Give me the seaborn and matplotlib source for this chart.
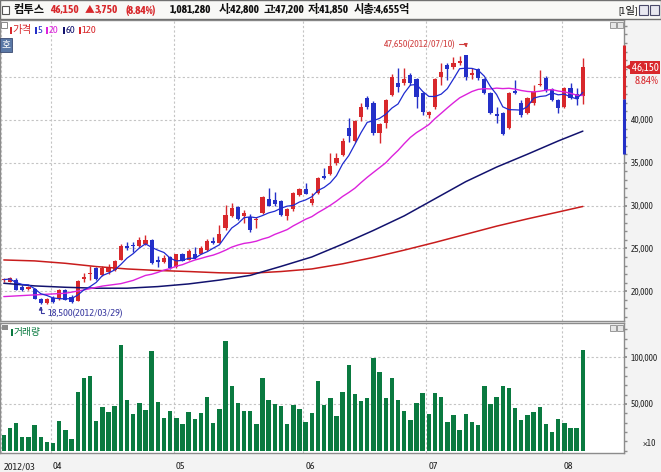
import os
import numpy as np
import pandas as pd
import matplotlib
matplotlib.use("Agg")
import matplotlib.pyplot as plt
import matplotlib.transforms as mtransforms
from matplotlib.patches import Rectangle
from matplotlib import font_manager as fm
from matplotlib.ticker import MultipleLocator
from matplotlib.textpath import TextToPath
import seaborn as sns

# ---------------- data ----------------
stock_name = "컴투스"
opens = [21300, 21120, 21320, 20540, 20270, 20270, 19100, 18600, 19250, 19100,
         20150, 19350, 18900, 21430, 22000, 22680, 21900, 22300, 22480, 23650,
         25320, 25350, 25320, 25480, 25980, 23660, 23460, 23970, 22880, 24360,
         23660, 24360, 24360, 24820, 25870, 25680, 27350, 28790, 29880, 28790,
         28710, 28300, 29100, 30780, 30660, 30540, 28830, 29570, 31240, 31940,
         30280, 31450, 33510, 33700, 34950, 35920, 39030, 37600, 40400, 42530,
         42030, 38530, 39700, 42920, 44360, 44360, 45260, 44750, 43120, 40590,
         41480, 45060, 46420, 46150, 46700, 47590, 45260, 45920, 44750, 43200,
         40710, 40780, 39110, 43390, 41950, 40860, 41950, 44050, 44950, 43580,
         42340, 41560, 43700, 43040, 42800]
highs = [21550, 21700, 21500, 20700, 20600, 20350, 19200, 19200, 19400, 20200,
         20300, 19500, 21300, 22100, 23000, 22800, 22900, 23150, 23700, 25500,
         25800, 25700, 26380, 26570, 26100, 24120, 24240, 24100, 24400, 24500,
         24900, 25200, 25300, 26100, 26300, 27740, 30080, 30270, 30000, 29490,
         29000, 28710, 31100, 32020, 31630, 30700, 29700, 31600, 32100, 32680,
         31450, 33350, 34370, 36120, 36120, 37900, 40200, 40000, 41950, 42810,
         42200, 39700, 42500, 45370, 46040, 46040, 45450, 44900, 43300, 41100,
         44900, 46620, 46700, 47400, 47500, 47650, 46040, 46040, 44900, 43300,
         41480, 40900, 43300, 44670, 42300, 42650, 44090, 45840, 45100, 43700,
         42500, 43800, 44290, 43700, 47200]
lows = [21050, 21050, 20100, 20000, 20150, 19050, 18500, 18550, 18600, 19000,
        18950, 18600, 18850, 21100, 21300, 21300, 21800, 22000, 22400, 23600,
        24800, 24600, 25200, 25400, 23200, 22880, 23300, 22600, 22700, 23500,
        23600, 23800, 24300, 24700, 25500, 25600, 27200, 28700, 28300, 27940,
        26960, 27350, 29000, 29900, 30000, 28800, 28330, 29400, 31100, 31300,
        30100, 31300, 33100, 33600, 34800, 35800, 37480, 37400, 39930, 41300,
        38200, 37280, 39030, 42800, 43310, 44090, 44100, 41370, 40590, 40200,
        41300, 44090, 44670, 45900, 46400, 44670, 44750, 44670, 43000, 40700,
        39620, 38200, 39000, 43000, 40400, 40700, 41800, 44000, 43300, 42200,
        40780, 41450, 42400, 41760, 41850]
closes = [21350, 21510, 20150, 20150, 20540, 19100, 18600, 19100, 18700, 20150,
          19000, 18700, 21200, 21700, 22100, 21430, 22680, 22680, 23530, 25320,
          25100, 25300, 25980, 25980, 23260, 23460, 23930, 22680, 24360, 23580,
          24710, 23850, 25020, 25870, 25680, 26690, 28910, 29760, 28400, 29180,
          27160, 28400, 31050, 29960, 30150, 28910, 29610, 31510, 31940, 31360,
          30750, 33280, 33280, 34640, 35530, 37600, 38140, 39930, 41480, 41480,
          38530, 39540, 42340, 45060, 43900, 44790, 44280, 42730, 40980, 40980,
          44750, 45650, 45920, 46700, 46930, 45060, 45530, 44870, 43200, 40790,
          40470, 38370, 43200, 43120, 40590, 42530, 43310, 44170, 43510, 42340,
          41370, 43700, 42530, 42400, 46150]
volumes = [16800, 24300, 29600, 14600, 14600, 27500, 14600, 9300, 8200, 31800,
           22100, 12500, 62900, 77900, 80000, 31800, 46800, 41400, 47900, 113200,
           54300, 39300, 51100, 43600, 106800, 52100, 35000, 42500, 35000, 28600,
           41400, 33900, 40400, 57500, 29600, 44600, 117500, 69300, 51100, 42500,
           42500, 28600, 77900, 54300, 50000, 47900, 28600, 48900, 44600, 30700,
           40400, 74600, 48900, 56400, 37100, 62900, 91800, 60700, 53200, 56400,
           99300, 84300, 56400, 77900, 54300, 42500, 32900, 51100, 61800, 39300,
           61800, 57500, 30700, 38200, 22100, 39300, 30700, 27500, 69300, 50000,
           57500, 69300, 67100, 45700, 32900, 38200, 41400, 46800, 28600, 20000,
           33900, 29600, 24300, 24300, 108128]   # x10 shares
month_labels = ["2012/03", "04", "05", "06", "07", "08"]
month_first_idx = [0, 8, 28, 49, 69, 91]
ma20_head_idx = [0, 5, 10, 13, 16]
ma20_head_vals = [19370, 19570, 19760, 20150, 20600]
ma_long_idx = [0, 5, 10, 15, 20, 25, 30, 35, 40, 45, 50, 55, 60, 65, 70, 75, 80, 85, 90, 94]
ma60_vals = [20930, 20620, 20460, 20350, 20350, 20540, 20850, 21300, 21850, 22900,
             24000, 25500, 27100, 28800, 30800, 32800, 34500, 36000, 37550, 38700]
ma120_vals = [23650, 23540, 23260, 22880, 22600, 22420, 22300, 22150, 22100, 22300,
              22600, 23200, 23950, 24800, 25700, 26650, 27600, 28450, 29250, 29900]
day_open, day_high, day_low = 42800, 47200, 41850
market_cap = "4,655억"
high_idx, high_date = 75, "2012/07/10"
low_idx, low_date = 6, "2012/03/29"
price_ticks = [20000, 25000, 30000, 35000, 40000, 45000]
vol_ticks = [50000, 100000]

# ---------------- fonts ----------------
W, H = 661, 472
sns.set_theme(style="white")

narrow_file = None
for f in fm.fontManager.ttflist:
    fn = os.path.basename(f.fname)
    if "LiberationSansNarrow-Regular" in fn:
        narrow_file = f.fname
        break
if narrow_file is None:
    for f in fm.fontManager.ttflist:
        fn = os.path.basename(f.fname)
        if (("Condensed" in fn and "Semi" not in fn and "DejaVu" not in fn) or "Narrow" in fn) \
                and "Regular" in fn and "Italic" not in fn:
            narrow_file = f.fname
            break
if narrow_file:
    fm.fontManager.addfont(narrow_file)
    NUMFAM = fm.FontProperties(fname=narrow_file).get_name()
else:
    NUMFAM = "Liberation Sans"
FAM = [NUMFAM, "Noto Sans CJK KR", "DejaVu Sans"]
plt.rcParams["font.family"] = FAM
plt.rcParams["axes.unicode_minus"] = False

_t2p = TextToPath()


def fit(text, target_px, max_pt, weight="normal"):
    prop = fm.FontProperties(family=NUMFAM, size=10, weight=weight)
    w, _, _ = _t2p.get_text_width_height_descent(text, prop, ismath=False)
    return min(max_pt, 10 * target_px / (w * 100 / 72))


RED = "#d8282c"
BLUE = "#2430c8"
MA5C = "#1f2bd0"
MA20C = "#dc22dc"
MA60C = "#12126e"
MA120C = "#c81c1c"
GREEN = "#0a7a40"
GRID = "#c4c4c4"
SPINE = "#8c8c8c"
TXT = "#222222"

fig = plt.figure(figsize=(W / 100, H / 100), dpi=100, facecolor="#f3f3f3")


def fx(x):
    return x / W


def fy(y):
    return 1 - y / H


ax = fig.add_axes([0, fy(321), fx(624), (321 - 20) / H])
vax = fig.add_axes([0, fy(453), fx(624), (453 - 323) / H])
for a in (ax, vax):
    a.set_facecolor("white")

O = np.array(opens, float)
Hh = np.array(highs, float)
L = np.array(lows, float)
C = np.array(closes, float)
idx = np.arange(len(C))
cols = np.where(C >= O, RED, BLUE)

# candles
ax.vlines(idx, L, Hh, colors=cols, lw=1.0, zorder=2)
ax.bar(idx, np.maximum(np.abs(C - O), 100), bottom=np.minimum(O, C), width=0.68,
       color=cols, linewidth=0, zorder=3)

# moving averages
cs = pd.Series(C)
ma5 = cs.rolling(5, min_periods=1).mean()
ma20 = cs.rolling(20).mean()
ma20_x = list(ma20_head_idx) + list(idx[19:])
ma20_y = list(ma20_head_vals) + list(ma20.values[19:])
sns.lineplot(x=ma_long_idx, y=ma120_vals, ax=ax, color=MA120C, lw=1.1, zorder=4)
sns.lineplot(x=ma_long_idx, y=ma60_vals, ax=ax, color=MA60C, lw=1.1, zorder=4)
sns.lineplot(x=ma20_x, y=ma20_y, ax=ax, color=MA20C, lw=1.0, zorder=4)
sns.lineplot(x=idx, y=ma5.values, ax=ax, color=MA5C, lw=0.9, zorder=5)

# volume
sns.barplot(x=idx, y=volumes, ax=vax, native_scale=True, color=GREEN, width=0.72,
            saturation=1, errorbar=None, linewidth=0)

# axes formatting
ylab_size = fit("100,000", 27.5, 9)
xlab_size = fit("2012/03", 32, 9)
tick_pos = [i - 0.4 for i in month_first_idx]
for a in (ax, vax):
    a.set_xlim(-0.617, 100.68)
    a.set_xticks(tick_pos)
    a.grid(True, axis="both", color=GRID, ls=(0, (2, 2)), lw=0.8)
    a.set_axisbelow(True)
    a.yaxis.tick_right()
    a.set_xlabel("")
    a.set_ylabel("")
    for s in a.spines.values():
        s.set_color(SPINE)
        s.set_linewidth(1)
    a.tick_params(axis="y", which="major", length=2.5, pad=2.5, labelsize=ylab_size,
                  color=SPINE, labelcolor=TXT, direction="out")
    a.tick_params(axis="y", which="minor", length=1.8, color=SPINE, direction="out")
ax.tick_params(axis="x", length=0, labelbottom=False)
ax.set_ylim(16520, 51680)
ax.set_yticks(price_ticks)
ax.set_yticklabels([f"{v:,}" if v < 45000 else "" for v in price_ticks])
ax.yaxis.set_minor_locator(MultipleLocator(1000))

vax.set_ylim(-2460, 136700)
vax.set_yticks(vol_ticks)
vax.set_yticklabels([f"{v:,}" for v in vol_ticks])
vax.yaxis.set_minor_locator(MultipleLocator(10000))
vax.tick_params(axis="x", length=5, pad=1.5, labelsize=xlab_size, color=SPINE, labelcolor=TXT,
                direction="out")
vax.set_xticklabels(month_labels, ha="left")
shift = mtransforms.ScaledTranslation(2 / 100, 0, fig.dpi_scale_trans)
for lbl in vax.get_xticklabels():
    lbl.set_transform(lbl.get_transform() + shift)
fig.text(fx(643), fy(444), "×10", size=ylab_size, color=TXT, va="center")

# right price label & limit band
last = int(C[-1])
prev = int(C[-2])
chg = last - prev
pct = chg / prev * 100
blend = mtransforms.blended_transform_factory(ax.transAxes, ax.transData)
ax.plot([1, 1], [prev, prev * 1.15], transform=blend, color=RED, lw=2.2,
        solid_capstyle="butt", clip_on=False, zorder=6)
ax.plot([1, 1], [prev * 0.85, prev], transform=blend, color=BLUE, lw=2.2,
        solid_capstyle="butt", clip_on=False, zorder=6)
ax.plot([1], [last], transform=blend + mtransforms.ScaledTranslation(4 / 100, 0, fig.dpi_scale_trans),
        marker="<", ms=5, color=RED, mew=0, clip_on=False, zorder=7)
ax.text(1, last, f"{last:,}", transform=blend + mtransforms.ScaledTranslation(7.5 / 100, 0, fig.dpi_scale_trans),
        ha="left", va="center", color="white", size=fit(f"{last:,}", 27, 9), clip_on=False, zorder=7,
        bbox=dict(boxstyle="square,pad=0.12", fc=RED, ec="none"))
ax.text(1, last, f"{pct:.2f}%", transform=blend + mtransforms.ScaledTranslation(11 / 100, -13 / 100, fig.dpi_scale_trans),
        ha="left", va="center", color=RED, size=fit(f"{pct:.2f}%", 24, 9), clip_on=False)

# high / low annotations
hi_txt = f"{int(Hh[high_idx]):,}({high_date})"
lo_txt = f"{int(L[low_idx]):,}({low_date})"
ax.annotate(hi_txt, xy=(high_idx, Hh[high_idx]),
            xytext=(-7, 7.5), textcoords="offset points", ha="right", va="center",
            color="#d04040", size=fit(hi_txt, 72, 9),
            arrowprops=dict(arrowstyle="-|>", color="#d04040", lw=0.8, mutation_scale=5,
                            shrinkA=0, shrinkB=5,
                            connectionstyle="angle,angleA=0,angleB=90,rad=0"))
ax.annotate(lo_txt, xy=(low_idx, L[low_idx]),
            xytext=(5, -6.5), textcoords="offset points", ha="left", va="center",
            color="#3a3aa0", size=fit(lo_txt, 75, 9),
            arrowprops=dict(arrowstyle="-|>", color="#3a3aa0", lw=0.8, mutation_scale=5,
                            shrinkA=0, shrinkB=1.5,
                            connectionstyle="angle,angleA=180,angleB=90,rad=0"))

# ---------------- header ----------------
fig.add_artist(Rectangle((0, fy(19)), 1, 19 / H, transform=fig.transFigure,
                         fc="#f8f8f6", ec="#707070", lw=1))
fig.add_artist(Rectangle((fx(2), fy(14)), fx(7), 8 / H, transform=fig.transFigure,
                         fc="white", ec="#555555", lw=0.8))
HS = fit(f"{volumes[-1] * 10:,}", 41, 9.5, weight="bold")
fig.text(fx(13), fy(10), stock_name, size=min(HS, 8.5), weight="bold", color="#111111", va="center")
red_parts = [(f"{last:,}", 50), ("▲", 85), (f"{chg:,}", 95), (f"({pct:.2f}%)", 126)]
for t, x0 in red_parts:
    fig.text(fx(x0), fy(10), t, size=HS if t != "▲" else 7, weight="bold", color=RED, va="center")
blk_parts = [(f"{volumes[-1] * 10:,}", 170), (f"시:{day_open:,}", 219), (f"고:{day_high:,}", 264),
             (f"저:{day_low:,}", 308), (f"시총:{market_cap}", 354)]
for t, x0 in blk_parts:
    fig.text(fx(x0), fy(10), t, size=HS, weight="bold", color="#111111", va="center")
fig.text(fx(618), fy(10), "[1일]", size=7.5, color="#111111", va="center")
for bx in (639, 650):
    fig.add_artist(Rectangle((fx(bx), fy(15)), fx(9), 10 / H, transform=fig.transFigure,
                             fc="#e8e8f0", ec="#4a4a6a", lw=0.8))

# ---------------- legends ----------------
fig.add_artist(Rectangle((fx(1), fy(28)), fx(6), 6 / H, transform=fig.transFigure,
                         fc="white", ec="#888888", lw=0.7))
leg = [("가격", RED, 10), ("5", BLUE, 35), ("20", MA20C, 46), ("60", MA60C, 63), ("120", RED, 79)]
for label, colr, x0 in leg:
    fig.add_artist(Rectangle((fx(x0), fy(34)), fx(2), 7 / H, transform=fig.transFigure,
                             fc=colr, ec="none"))
    fig.text(fx(x0 + 2.5), fy(30.5), label, size=7.5, color=colr, va="center")
fig.add_artist(Rectangle((fx(0), fy(52)), fx(12), 14 / H, transform=fig.transFigure,
                         fc="#5a78a6", ec="#3a4a70", lw=0.6))
fig.text(fx(6), fy(45), "호", size=7, color="white", ha="center", va="center")

fig.add_artist(Rectangle((fx(2), fy(330)), fx(6), 5 / H, transform=fig.transFigure,
                         fc="#8a8a8a", ec="none"))
fig.add_artist(Rectangle((fx(11), fy(336)), fx(2), 7 / H, transform=fig.transFigure,
                         fc=GREEN, ec="none"))
fig.text(fx(14), fy(332.5), "거래량", size=7, color=GREEN, va="center")

for ytop in (22, 325):
    for bx in (610, 617):
        fig.add_artist(Rectangle((fx(bx), fy(ytop + 6)), fx(6), 6 / H, transform=fig.transFigure,
                                 fc="#e6e6e6", ec="#8a8a8a", lw=0.6))

fig.savefig("out.png", dpi=100, facecolor=fig.get_facecolor())
